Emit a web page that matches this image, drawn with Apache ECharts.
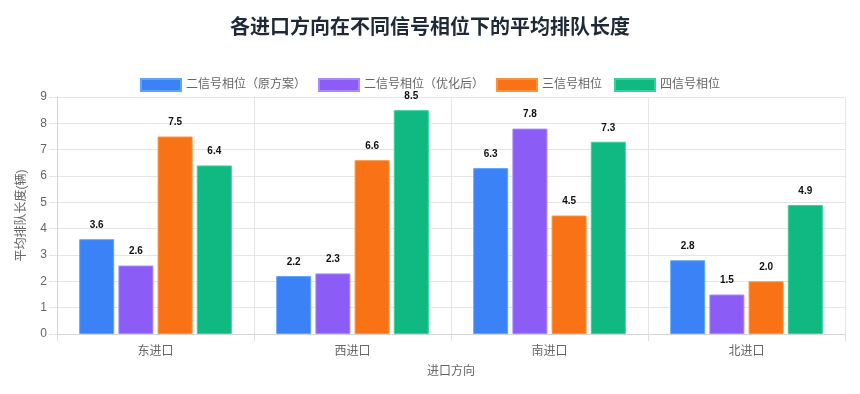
<!DOCTYPE html>
<html><head><meta charset="utf-8">
<script src="https://cdn.jsdelivr.net/npm/echarts@6/dist/echarts.min.js"></script>
<style>html,body{margin:0;padding:0;background:#fff}#c{width:860px;height:394px}</style>
</head><body><div id="c"></div>
<script>
const categories = ['东进口', '西进口', '南进口', '北进口'];
const seriesNames = ['二信号相位（原方案）', '二信号相位（优化后）', '三信号相位', '四信号相位'];
const twoPhaseOriginal = [3.6, 2.2, 6.3, 2.8];
const twoPhaseOptimized = [2.6, 2.3, 7.8, 1.5];
const threePhase = [7.5, 6.6, 4.5, 2.0];
const fourPhase = [6.4, 8.5, 7.3, 4.9];
const yTicks = [0, 1, 2, 3, 4, 5, 6, 7, 8, 9];

const fills = ['#3b82f6', '#8b5cf6', '#f97316', '#10b981'];
const borders = ['#60a5fa', '#a78bfa', '#fb923c', '#34d399'];
const values = [twoPhaseOriginal, twoPhaseOptimized, threePhase, fourPhase];
const FONT = '"Liberation Sans", "Noto Sans CJK SC", sans-serif';

const chart = echarts.init(document.getElementById('c'), null, {renderer: 'canvas'});
chart.setOption({
  animation: false,
  textStyle: {fontFamily: FONT},
  title: {
    text: '各进口方向在不同信号相位下的平均排队长度',
    left: 'center', top: 13,
    textStyle: {fontSize: 20, fontWeight: 'bold', color: '#1f2937', fontFamily: FONT}
  },
  legend: {
    top: 73, left: 'center',
    itemWidth: 40, itemHeight: 12, itemGap: 12,
    icon: 'rect',
    textStyle: {color: '#666', fontSize: 12, fontFamily: FONT},
    data: seriesNames
  },
  grid: {left: 57, right: 15, top: 97, bottom: 60},
  xAxis: {
    type: 'category', data: categories,
    name: '进口方向', nameLocation: 'middle', nameGap: 32,
    nameTextStyle: {color: '#666', fontSize: 12},
    axisLine: {lineStyle: {color: '#d4d4d4'}},
    axisTick: {show: true, length: 7, lineStyle: {color: '#e0e0e0'}},
    axisLabel: {color: '#666', fontSize: 12, margin: 12},
    splitLine: {show: true, lineStyle: {color: '#e5e5e5'}}
  },
  yAxis: {
    type: 'value', min: yTicks[0], max: yTicks[yTicks.length - 1], interval: 1,
    name: '平均排队长度(辆)', nameLocation: 'middle', nameGap: 29, nameRotate: 90,
    nameTextStyle: {color: '#666', fontSize: 12},
    axisLine: {show: true, lineStyle: {color: '#d4d4d4'}},
    axisTick: {show: true, length: 8, lineStyle: {color: '#e5e5e5'}},
    axisLabel: {color: '#666', fontSize: 12, margin: 10},
    splitLine: {lineStyle: {color: '#e5e5e5'}}
  },
  series: seriesNames.map((n, i) => ({
    name: n, type: 'bar', data: values[i],
    barWidth: 35, barGap: '12%',
    itemStyle: {color: fills[i], borderColor: borders[i], borderWidth: 1},
    label: {
      show: true, position: 'top', distance: 9,
      color: '#111', fontSize: 10, fontWeight: 'bold', fontFamily: FONT,
      formatter: p => p.value.toFixed(1)
    }
  }))
});
</script></body></html>
